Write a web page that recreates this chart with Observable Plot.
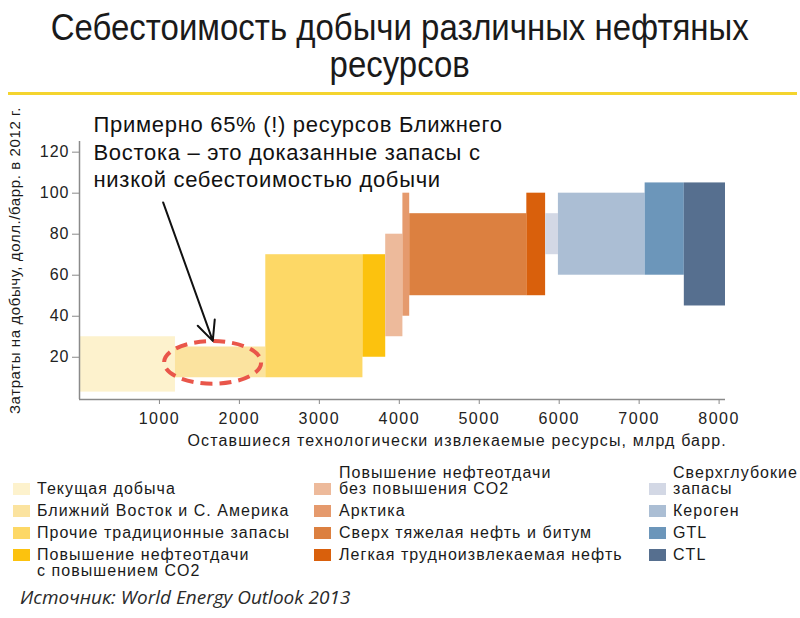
<!DOCTYPE html>
<html>
<head>
<meta charset="utf-8">
<script src="https://cdn.jsdelivr.net/npm/d3@7"></script>
<script src="https://cdn.jsdelivr.net/npm/@observablehq/plot@0.6"></script>
<style>
  body { margin: 0; background: #ffffff; }
  #wrap { position: relative; width: 800px; height: 618px; overflow: hidden;
          font-family: "Liberation Sans", Arial, sans-serif; color: #1a1a1a; }
  .tl { position: absolute; left: 0; width: 800px; text-align: center; white-space: nowrap;
        font-family: "Liberation Sans Narrow", "Arial Narrow", "Liberation Sans", sans-serif;
        font-size: 37px; line-height: 35px; color: #1a1a1a; }
  .tl span { display: inline-block; transform-origin: 50% 50%; }
  #rule { position: absolute; left: 8px; width: 789px; top: 92px; height: 3px; background: #F4D42E; }
  #chart { position: absolute; left: 0; top: 100px; }
  .lt { position: absolute; font-size: 16px; line-height: 16px; letter-spacing: 1.05px; white-space: nowrap; color: #1a1a1a; }
  .sw { position: absolute; width: 17px; height: 12px; }
  #src { position: absolute; left: 20px; top: 585px; font-family: "Open Sans", sans-serif; font-style: italic;
         font-size: 19px; line-height: 24px; color: #2a2a2a; white-space: nowrap; }
</style>
</head>
<body>
<div id="wrap">
  <div class="tl" id="t1" style="top:10px"><span>Себестоимость добычи различных нефтяных</span></div>
  <div class="tl" id="t2" style="top:47px"><span>ресурсов</span></div>
  <div id="rule"></div>
  <div id="chart"></div>
  <div id="legend"></div>
  <div id="src">Источник: World Energy Outlook 2013</div>
</div>
<script>
// ---- data ----
const categories = [
  "Текущая добыча",
  "Ближний Восток и С. Америка",
  "Прочие традиционные запасы",
  "Повышение нефтеотдачи с повышением CO2",
  "Повышение нефтеотдачи без повышения CO2",
  "Арктика",
  "Сверх тяжелая нефть и битум",
  "Легкая трудноизвлекаемая нефть",
  "Сверхглубокие запасы",
  "Кероген",
  "GTL",
  "CTL"
];
const resourceStart = [0, 1200, 2330, 3545, 3830, 4045, 4130, 5595, 5830, 5990, 7075, 7565];
const resourceEnd   = [1200, 2330, 3545, 3830, 4045, 4130, 5595, 5830, 5990, 7075, 7565, 8080];
const costLow  = [3, 10, 10, 20, 30, 40, 50, 50, 70, 60, 60, 45];
const costHigh = [30, 25, 70, 70, 80, 100, 90, 100, 90, 100, 105, 105];
const colors = ["#FDF2CD", "#FBE39F", "#FDD866", "#FCC20E", "#EDBA9B", "#E59A6D",
                "#DC8040", "#D9600C", "#D3D8E5", "#ABBED4", "#6C96BA", "#566F8F"];
const legendLabels = [
  ["Текущая добыча"],
  ["Ближний Восток и С. Америка"],
  ["Прочие традиционные запасы"],
  ["Повышение нефтеотдачи", "с повышением CO2"],
  ["Повышение нефтеотдачи", "без повышения CO2"],
  ["Арктика"],
  ["Сверх тяжелая нефть и битум"],
  ["Легкая трудноизвлекаемая нефть"],
  ["Сверхглубокие", "запасы"],
  ["Кероген"],
  ["GTL"],
  ["CTL"]
];
const xTicks = [1000, 2000, 3000, 4000, 5000, 6000, 7000, 8000];
const yTicks = [20, 40, 60, 80, 100, 120];
const xLabel = "Оставшиеся технологически извлекаемые ресурсы, млрд барр.";
const yLabel = "Затраты на добычу, долл./барр. в 2012 г.";
const noteText = "Примерно 65% (!) ресурсов Ближнего\nВостока – это доказанные запасы с\nнизкой себестоимостью добычи";
const highlight = [{x: 1665, y: 17.5}];
const arrowFrom = [{x1: 1046, y1: 95.5, x2: 1667, y2: 28}];

const rects = categories.map((c, i) => ({
  category: c, x1: resourceStart[i], x2: resourceEnd[i], y1: costLow[i], y2: costHigh[i]
}));

// custom ellipse symbol (pixel radii)
const ellipseSymbol = {
  draw(ctx) {
    const rx = 48.5, ry = 21.3, k = 0.5523;
    ctx.moveTo(rx, 0);
    ctx.bezierCurveTo(rx, ry * k, rx * k, ry, 0, ry);
    ctx.bezierCurveTo(-rx * k, ry, -rx, ry * k, -rx, 0);
    ctx.bezierCurveTo(-rx, -ry * k, -rx * k, -ry, 0, -ry);
    ctx.bezierCurveTo(rx * k, -ry, rx, -ry * k, rx, 0);
    ctx.closePath();
  }
};

const chart = Plot.plot({
  width: 800,
  height: 360,
  marginLeft: 79,
  marginRight: 75,
  marginTop: 41,
  marginBottom: 61,
  style: { fontFamily: "'Liberation Sans', Arial, sans-serif", color: "#1a1a1a", background: "transparent", overflow: "visible" },
  x: { domain: [0, 8080] },
  y: { domain: [-0.6, 125.2] },
  color: { domain: categories, range: colors },
  marks: [
    Plot.rect(rects, { x1: "x1", x2: "x2", y1: "y1", y2: "y2", fill: "category" }),
    Plot.ruleY([-0.6], { stroke: "#8a8a8a", strokeWidth: 1.5 }),
    Plot.ruleX([0], { stroke: "#8a8a8a", strokeWidth: 1.5 }),
    Plot.axisX({ ticks: xTicks, tickFormat: d => String(d), tickSize: 5, tickPadding: 8,
                 fontSize: 16, stroke: "#8a8a8a", color: "#222", label: null }),
    Plot.axisY({ ticks: yTicks, tickSize: 7, tickPadding: 3,
                 fontSize: 16, stroke: "#8a8a8a", color: "#222", label: null }),
    Plot.dot(highlight, { x: "x", y: "y", symbol: ellipseSymbol, r: 10, fill: "none",
                          stroke: "#E9564A", strokeWidth: 4, strokeDasharray: "12,7" }),
    Plot.arrow(arrowFrom, { x1: "x1", y1: "y1", x2: "x2", y2: "y2", stroke: "#111",
                            strokeWidth: 2, headLength: 16, headAngle: 50 }),
    Plot.text([noteText], { frameAnchor: "top-left", text: d => d, textAnchor: "start", lineAnchor: "top",
                            dx: 14, dy: -29, fontSize: 22, lineHeight: 1.25, fill: "#111" }),
    Plot.text([yLabel], { frameAnchor: "left", text: d => d, rotate: -90, textAnchor: "middle",
                          dx: -64, dy: -10, fontSize: 15, fill: "#1a1a1a" }),
    Plot.text([xLabel], { frameAnchor: "bottom-left", text: d => d, textAnchor: "start",
                          dx: 108, dy: 46, fontSize: 16, fill: "#1a1a1a" })
  ]
});
document.getElementById("chart").appendChild(chart);

// letter spacing (the source is slightly stretched horizontally)
const texts = d3.select(chart).selectAll('[aria-label="text"]').nodes();
d3.select(chart).selectAll('[aria-label="x-axis tick label"] text').style("letter-spacing", "1.5px");
d3.select(chart).selectAll('[aria-label="y-axis tick label"] text').style("letter-spacing", "1px");
d3.select(texts[0]).selectAll("text").style("letter-spacing", "0.7px");
d3.select(texts[1]).selectAll("text").style("letter-spacing", "0.6px");
d3.select(texts[2]).selectAll("text").style("letter-spacing", "1.15px");

// legend
const legend = document.getElementById("legend");
const rowY = [489, 511, 533, 555];
const cols = [{ sw: 13, tx: 37 }, { sw: 314, tx: 339 }, { sw: 649, tx: 673 }];
categories.forEach((c, i) => {
  const col = cols[Math.floor(i / 4)];
  const row = i % 4;
  const lines = legendLabels[i];
  const anchorLine = (lines.length > 1 && i >= 4) ? 1 : 0;
  const y = rowY[row];
  const sw = document.createElement("div");
  sw.className = "sw";
  sw.style.left = col.sw + "px";
  sw.style.top = (y - 6) + "px";
  sw.style.background = colors[i];
  legend.appendChild(sw);
  lines.forEach((t, j) => {
    const d = document.createElement("div");
    d.className = "lt";
    d.style.left = col.tx + "px";
    d.style.top = (y - 8 + (j - anchorLine) * 16) + "px";
    d.textContent = t;
    legend.appendChild(d);
  });
});

// fit the title width to the reference
const s1 = document.querySelector("#t1 span");
const s2 = document.querySelector("#t2 span");
const sc = 698 / s1.getBoundingClientRect().width;
s1.style.transform = "scaleX(" + sc + ")";
s2.style.transform = "scaleX(" + sc + ")";
</script>
</body>
</html>
